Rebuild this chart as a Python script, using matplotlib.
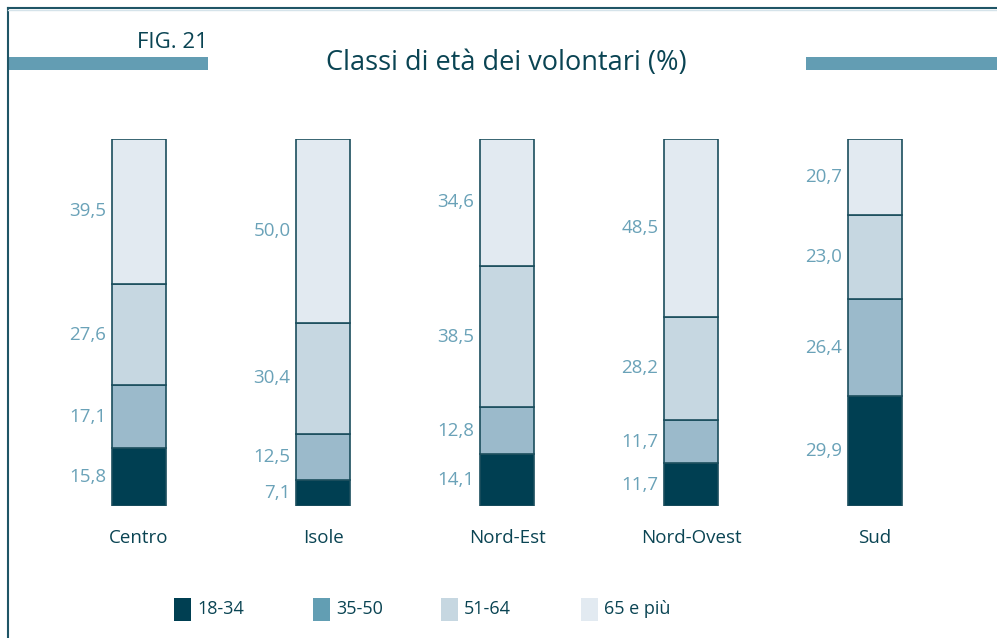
import matplotlib as mpl
mpl.use('Agg')
import matplotlib.pyplot as plt
from matplotlib.patches import Rectangle
from matplotlib.lines import Line2D
import numpy as np

plt.rcParams['font.family'] = ['Open Sans', 'DejaVu Sans']

regioni = ['Centro', 'Isole', 'Nord-Est', 'Nord-Ovest', 'Sud']
classi = ['18-34', '35-50', '51-64', '65 e più']
v_18_34 = [15.8, 7.1, 14.1, 11.7, 29.9]
v_35_50 = [17.1, 12.5, 12.8, 11.7, 26.4]
v_51_64 = [27.6, 30.4, 38.5, 28.2, 23.0]
v_65 = [39.5, 50.0, 34.6, 48.5, 20.7]

bar_cols = ['#003f52', '#9bbacb', '#c6d7e1', '#e2eaf1']
leg_cols = ['#003f52', '#629eb3', '#c6d7e1', '#e2eaf1']
dark = '#0a4453'
lab_col = '#6aa2b8'
edge = '#1b4e5d'

W, H = 997, 638
fig = plt.figure(figsize=(W / 100, H / 100), dpi=100)

# bar area in pixels: bottom 506, top 139
ax = fig.add_axes([0, (H - 506) / H, 1, 367 / H])
spacing = 184.0
x0 = 139.0
ax.set_xlim(-x0 / spacing, (W - x0) / spacing)
ax.set_ylim(0, 100)
ax.axis('off')

w = 54 / spacing
x = np.arange(len(regioni))
series = [v_18_34, v_35_50, v_51_64, v_65]
bottom = np.zeros(len(regioni))
for vals, c in zip(series, bar_cols):
    vals = np.array(vals)
    ax.bar(x, vals, width=w, bottom=bottom, color=c, edgecolor=edge, linewidth=1.2)
    for i in range(len(regioni)):
        ax.annotate(f'{vals[i]:.1f}'.replace('.', ','), (x[i] - w / 2, bottom[i] + vals[i] / 2),
                    xytext=(-4, 0), textcoords='offset points', ha='right', va='center',
                    fontsize=13.5, color=lab_col)
    bottom += vals

for i, r in enumerate(regioni):
    ax.annotate(r, (x[i], 0), xytext=(0, -23), textcoords='offset points', ha='center',
                va='center', fontsize=13.5, color=dark)

# frame lines
fig.add_artist(Line2D([8 / W, 1], [1 - 8 / H, 1 - 8 / H], color='#1f5566', lw=1.5))
fig.add_artist(Line2D([8 / W, 8 / W], [0, 1 - 8 / H], color='#1f5566', lw=1.5))
fig.add_artist(Line2D([8 / W, 1], [1 - 10 / H, 1 - 10 / H], color='#d5e3ea', lw=1))

# header bars
fig.add_artist(Rectangle((8 / W, 1 - 70 / H), 200 / W, 13 / H, color='#639db3', lw=0))
fig.add_artist(Rectangle((806 / W, 1 - 70 / H), 191 / W, 13 / H, color='#639db3', lw=0))

fig.text(208 / W, 1 - 42 / H, 'FIG. 21', ha='right', va='center', fontsize=16,
         fontweight='medium', color=dark)
fig.text(506 / W, 1 - 63 / H, 'Classi di età dei volontari (%)', ha='center', va='center',
         fontsize=19.5, fontweight='medium', color=dark)

# legend
leg_x = [174, 313, 441, 581]
for lx, c, lab in zip(leg_x, leg_cols, classi):
    fig.add_artist(Rectangle((lx / W, 1 - 621 / H), 17 / W, 23 / H, color=c, lw=0))
    fig.text((lx + 23) / W, 1 - 609 / H, lab, ha='left', va='center', fontsize=13, color=dark)

fig.savefig('out.png', dpi=100)
